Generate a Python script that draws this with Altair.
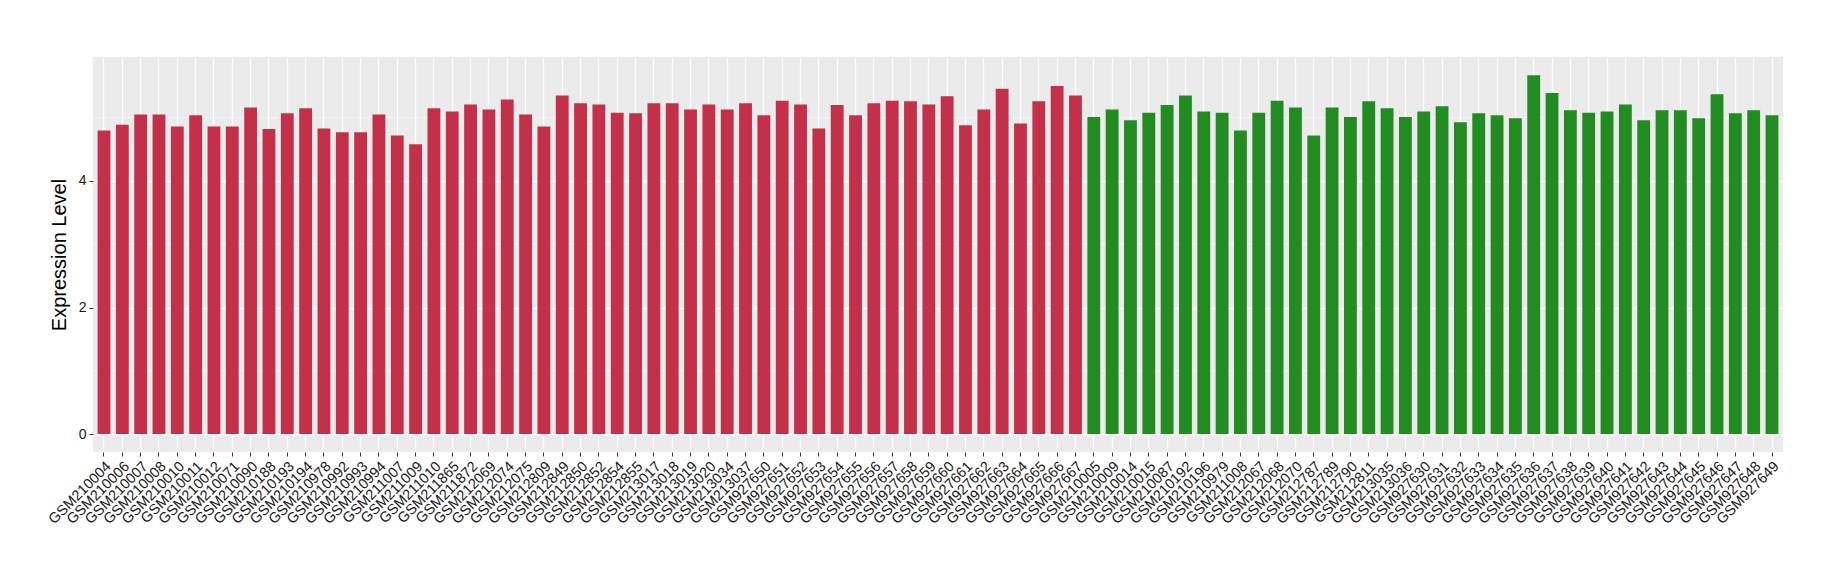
import altair as alt
import pandas as pd

red_samples = [
    "GSM210004", "GSM210006", "GSM210007", "GSM210008", "GSM210010", "GSM210011",
    "GSM210012", "GSM210071", "GSM210090", "GSM210188", "GSM210193", "GSM210194",
    "GSM210978", "GSM210992", "GSM210993", "GSM210994", "GSM211007", "GSM211009",
    "GSM211010", "GSM211865", "GSM211872", "GSM212069", "GSM212074", "GSM212075",
    "GSM212809", "GSM212849", "GSM212850", "GSM212852", "GSM212854", "GSM212855",
    "GSM213017", "GSM213018", "GSM213019", "GSM213020", "GSM213034", "GSM213037",
    "GSM927650", "GSM927651", "GSM927652", "GSM927653", "GSM927654", "GSM927655",
    "GSM927656", "GSM927657", "GSM927658", "GSM927659", "GSM927660", "GSM927661",
    "GSM927662", "GSM927663", "GSM927664", "GSM927665", "GSM927666", "GSM927667",
]
red_values = [
    4.80, 4.89, 5.05, 5.05, 4.86, 5.04, 4.86, 4.86, 5.16, 4.82, 5.07, 5.15,
    4.83, 4.77, 4.77, 5.05, 4.72, 4.58, 5.15, 5.10, 5.21, 5.13, 5.29, 5.05,
    4.86, 5.35, 5.23, 5.21, 5.08, 5.07, 5.23, 5.23, 5.13, 5.21, 5.13, 5.23,
    5.04, 5.27, 5.21, 4.83, 5.20, 5.04, 5.23, 5.27, 5.26, 5.21, 5.34, 4.88,
    5.13, 5.46, 4.91, 5.26, 5.50, 5.35,
]
green_samples = [
    "GSM210005", "GSM210009", "GSM210014", "GSM210015", "GSM210087", "GSM210192",
    "GSM210196", "GSM210979", "GSM211008", "GSM212067", "GSM212068", "GSM212070",
    "GSM212787", "GSM212789", "GSM212790", "GSM212811", "GSM213035", "GSM213036",
    "GSM927630", "GSM927631", "GSM927632", "GSM927633", "GSM927634", "GSM927635",
    "GSM927636", "GSM927637", "GSM927638", "GSM927639", "GSM927640", "GSM927641",
    "GSM927642", "GSM927643", "GSM927644", "GSM927645", "GSM927646", "GSM927647",
    "GSM927648", "GSM927649",
]
green_values = [
    5.01, 5.13, 4.96, 5.08, 5.20, 5.35, 5.10, 5.08, 4.80, 5.08, 5.27, 5.16,
    4.72, 5.16, 5.01, 5.26, 5.15, 5.01, 5.10, 5.18, 4.93, 5.07, 5.04, 4.99,
    5.67, 5.39, 5.12, 5.08, 5.10, 5.21, 4.96, 5.12, 5.12, 4.99, 5.37, 5.07,
    5.12, 5.04,
]
groups = ["A", "B"]
group_colors = ["#C2304A", "#228B22"]
y_major = [0, 2, 4]
y_minor = [1, 3, 5]

samples = red_samples + green_samples
df = pd.DataFrame({
    "sample": samples,
    "value": red_values + green_values,
    "group": [groups[0]] * len(red_samples) + [groups[1]] * len(green_samples),
})
minor_df = pd.DataFrame({"value": y_minor})

FONT = "Liberation Sans"
yscale = alt.Scale(domain=[-0.284, 5.96], nice=False, zero=False)
yaxis = alt.Axis(
    values=y_major, title="Expression Level", grid=True, gridColor="white",
    gridWidth=1.3, domain=False, tickColor="#333333", tickSize=4, tickWidth=1,
    labelColor="#1a1a1a", labelFontSize=14, labelFont=FONT, labelPadding=3,
    titleFont=FONT, titleFontSize=20, titleFontWeight="normal", titleColor="black",
    titlePadding=9,
)

minor = alt.Chart(minor_df).mark_rule(color="white", strokeWidth=0.6).encode(
    y=alt.Y("value:Q", scale=yscale, axis=yaxis)
)

bars = alt.Chart(df).mark_bar().encode(
    x=alt.X(
        "sample:N", sort=samples,
        scale=alt.Scale(paddingInner=0.3, paddingOuter=0.25),
        axis=alt.Axis(
            title=None, grid=True, gridColor="white", gridWidth=1.3, domain=False,
            tickColor="#333333", tickSize=4, tickWidth=1, labelAngle=-45,
            labelAlign="right", labelBaseline="top", labelColor="#1a1a1a",
            labelFontSize=14.5, labelFont=FONT, labelPadding=3, labelOverlap=False,
            bandPosition=0.5,
        ),
    ),
    y=alt.Y("value:Q", scale=yscale, axis=yaxis),
    y2=alt.datum(0),
    color=alt.Color("group:N", scale=alt.Scale(domain=groups, range=group_colors), legend=None),
)

chart = alt.layer(minor, bars).properties(
    width=1690, height=395,
    autosize=alt.AutoSizeParams(type="none"),
    padding={"left": 85, "top": 49, "right": 49, "bottom": 100},
).configure_view(fill="#EBEBEB", stroke=None)

chart.save("out.html", embed_options={"renderer": "svg", "actions": False})
